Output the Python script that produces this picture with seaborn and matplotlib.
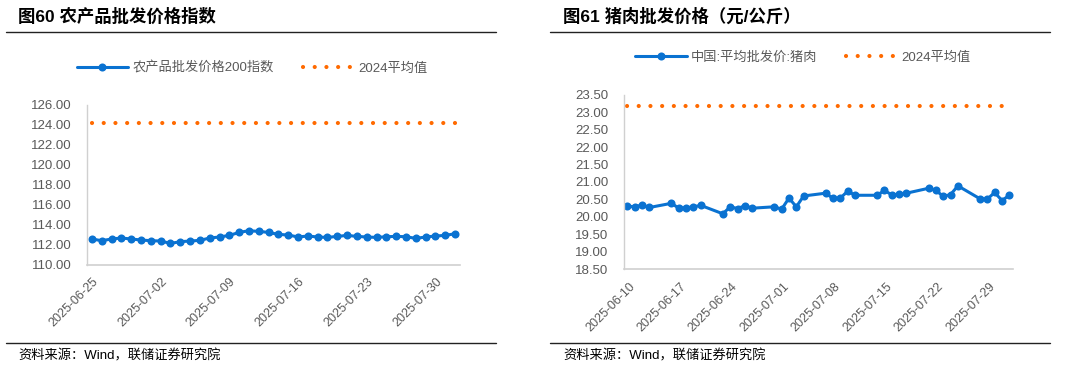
import numpy as np
import pandas as pd
import matplotlib
matplotlib.use("Agg")
import matplotlib.pyplot as plt
import matplotlib.dates as mdates
from matplotlib.lines import Line2D
import seaborn as sns

# ---------------- data ----------------
left_title = "图60 农产品批发价格指数"
right_title = "图61 猪肉批发价格（元/公斤）"
source_text = "资料来源：Wind，联储证券研究院"

left_series_name = "农产品批发价格200指数"
left_avg_name = "2024平均值"
left_start = "2025-06-25"
left_values = [112.57, 112.40, 112.57, 112.67, 112.57, 112.47, 112.40, 112.37,
               112.13, 112.30, 112.37, 112.43, 112.67, 112.77, 112.93, 113.23,
               113.40, 113.33, 113.23, 113.03, 112.97, 112.77, 112.87, 112.77,
               112.73, 112.83, 112.93, 112.83, 112.77, 112.73, 112.80, 112.83,
               112.80, 112.63, 112.77, 112.87, 112.93, 113.10]
left_avg = 124.13
left_tick_labels = ["2025-06-25", "2025-07-02", "2025-07-09", "2025-07-16",
                    "2025-07-23", "2025-07-30"]

right_series_name = "中国:平均批发价:猪肉"
right_avg_name = "2024平均值"
right_dates = ["2025-06-10", "2025-06-11", "2025-06-12", "2025-06-13",
               "2025-06-16", "2025-06-17", "2025-06-18", "2025-06-19", "2025-06-20",
               "2025-06-23", "2025-06-24", "2025-06-25", "2025-06-26", "2025-06-27",
               "2025-06-30", "2025-07-01", "2025-07-02", "2025-07-03", "2025-07-04",
               "2025-07-07", "2025-07-08", "2025-07-09", "2025-07-10", "2025-07-11",
               "2025-07-14", "2025-07-15", "2025-07-16", "2025-07-17", "2025-07-18",
               "2025-07-21", "2025-07-22", "2025-07-23", "2025-07-24", "2025-07-25",
               "2025-07-28", "2025-07-29", "2025-07-30", "2025-07-31", "2025-08-01"]
right_values = [20.31, 20.29, 20.34, 20.27,
                20.39, 20.25, 20.26, 20.29, 20.33,
                20.09, 20.29, 20.24, 20.32, 20.25,
                20.29, 20.22, 20.54, 20.29, 20.60,
                20.68, 20.53, 20.54, 20.74, 20.62,
                20.62, 20.76, 20.63, 20.65, 20.68,
                20.82, 20.76, 20.59, 20.64, 20.89,
                20.52, 20.51, 20.70, 20.47, 20.62]
right_avg = 23.17
right_tick_labels = ["2025-06-10", "2025-06-17", "2025-06-24", "2025-07-01",
                     "2025-07-08", "2025-07-15", "2025-07-22", "2025-07-29"]

# ---------------- style ----------------
sns.set_style("white")
plt.rcParams['font.family'] = ['Liberation Sans', 'Noto Sans CJK SC', 'DejaVu Sans']

BLUE = "#0a72d1"
ORANGE = "#ff6a00"
GRAY_TXT = "#595959"
SPINE = "#d0d0d0"
DOT_LW = 3.0
DOT_LS = (0, (0.01, 2.8))

W, H = 1066, 367
fig = plt.figure(figsize=(W / 100, H / 100), dpi=100)


def px_axes(l, t, r, b):
    return fig.add_axes([l / W, 1 - b / H, (r - l) / W, (b - t) / H])


def draw_panel(ax, df, avg, ylim, ystep, tick_labels, series_name, avg_name,
               legend_xy):
    sns.lineplot(data=df, x="date", y="value", ax=ax, color=BLUE, lw=2.2,
                 marker="o", markersize=5.8, markeredgewidth=0, legend=False)
    d0 = df["date"].min()
    d1 = df["date"].max()
    avg_df = pd.DataFrame({"date": [d0, d1], "value": [avg, avg]})
    sns.lineplot(data=avg_df, x="date", y="value", ax=ax, color=ORANGE,
                 lw=DOT_LW, legend=False)
    avg_line = ax.get_lines()[-1]
    avg_line.set_linestyle(DOT_LS)
    avg_line.set_dash_capstyle("round")

    tick_dates = pd.to_datetime(tick_labels)
    tick_pos = mdates.date2num(tick_dates) - 0.5
    ax.set_xticks(tick_pos)
    ax.set_xticklabels(tick_labels, rotation=45, ha="right",
                       rotation_mode="anchor", color=GRAY_TXT, fontsize=9)
    ax.set_xlim(mdates.date2num(d0) - 0.5, mdates.date2num(d1) + 0.5)
    ax.set_ylim(*ylim)
    ax.set_yticks(np.arange(ylim[0], ylim[1] + ystep / 2, ystep))
    ax.yaxis.set_major_formatter(matplotlib.ticker.FormatStrFormatter("%.2f"))
    ax.tick_params(axis="y", labelsize=9.5, labelcolor=GRAY_TXT, length=3,
                   color=SPINE, direction="out", pad=8)
    ax.tick_params(axis="x", length=4, color=SPINE, direction="inout", pad=6)
    for lab in ax.get_xticklabels():
        lab.set_transform(lab.get_transform() +
                          matplotlib.transforms.ScaledTranslation(5 / 100, 0, fig.dpi_scale_trans))
    for s in ["top", "right"]:
        ax.spines[s].set_visible(False)
    ax.spines["left"].set_color(SPINE)
    ax.spines["bottom"].set_color(SPINE)
    ax.spines["left"].set_linewidth(1.0)
    ax.spines["bottom"].set_linewidth(1.2)
    ax.set_xlabel("")
    ax.set_ylabel("")
    ax.grid(False)

    h1 = Line2D([0, 0.5, 1], [0, 0, 0], color=BLUE, lw=2.2, marker="o",
                markersize=5.8, markeredgewidth=0, markevery=[1])
    h2 = Line2D([], [], color=ORANGE, lw=DOT_LW, linestyle=DOT_LS,
                dash_capstyle="round")
    fig.legend([h1, h2], [series_name, avg_name], loc="center",
               bbox_to_anchor=(legend_xy[0] / W, 1 - legend_xy[1] / H),
               ncol=2, frameon=False, fontsize=9.5, labelcolor=GRAY_TXT,
               handlelength=3.9, handletextpad=0.3, columnspacing=2.2)


# left panel
left_dates = pd.date_range(left_start, periods=len(left_values), freq="D")
df_left = pd.DataFrame({"date": left_dates, "value": left_values})
axL = px_axes(87, 104.7, 460, 264.7)
draw_panel(axL, df_left, left_avg, (110, 126), 2, left_tick_labels,
           left_series_name, left_avg_name, (252, 68))

# right panel
df_right = pd.DataFrame({"date": pd.to_datetime(right_dates), "value": right_values})
axR = px_axes(623.7, 94.7, 1013, 269.3)
draw_panel(axR, df_right, right_avg, (18.5, 23.5), 0.5, right_tick_labels,
           right_series_name, right_avg_name, (803, 57.5))

# titles, rules, footers
for x0, x1, tx, title in [(6, 496, 18, left_title), (550, 1050, 563, right_title)]:
    fig.text(tx / W, 1 - 16 / H, title, fontsize=12.5, fontweight="bold",
             va="center", ha="left", color="black")
    fig.add_artist(Line2D([x0 / W, x1 / W], [1 - 31.5 / H, 1 - 31.5 / H],
                          color="#222222", lw=1.0))
    fig.add_artist(Line2D([x0 / W, x1 / W], [1 - 343 / H, 1 - 343 / H],
                          color="#222222", lw=1.0))
    fig.text(tx / W, 1 - 355.5 / H, source_text, fontsize=9.5,
             va="center", ha="left", color="black")

fig.savefig("out.png", dpi=100)
